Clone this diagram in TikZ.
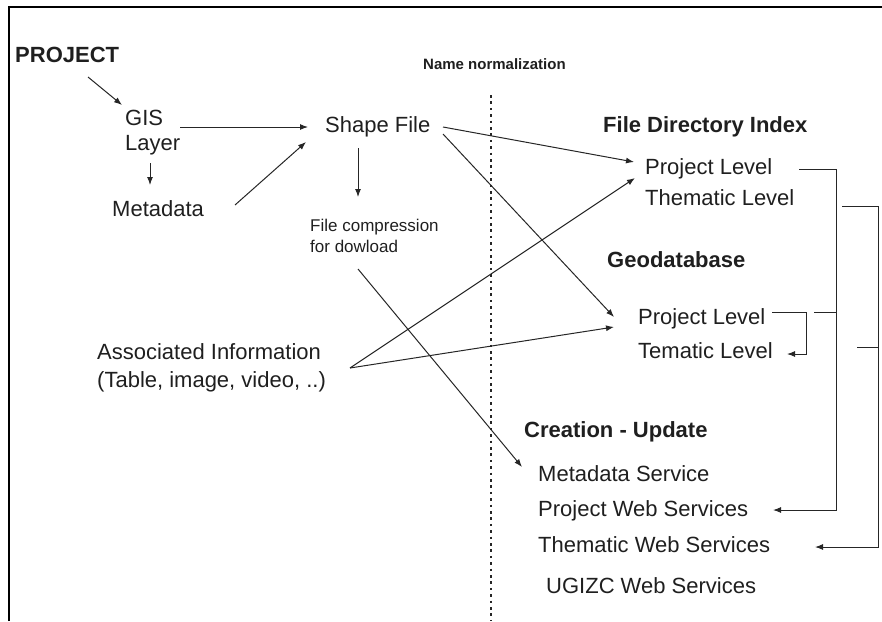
\documentclass[tikz,border=0pt]{standalone}
\usepackage{fontspec}
\setmainfont{Liberation Sans}
\usetikzlibrary{arrows.meta}
\begin{document}
\begin{tikzpicture}[x=1pt,y=-1pt,
  lbl/.style={inner sep=0pt,anchor=base west,font=\fontsize{22}{25}\selectfont,text=black!88},
  hdr/.style={lbl,font=\bfseries\fontsize{22}{25}\selectfont},
  arr/.style={-{Latex[length=8pt,width=6pt]},line width=1pt,draw=black!85},
  ln/.style={line width=1pt,draw=black!85}]
\useasboundingbox (0,0) rectangle (882,621);
% frame
\coordinate (fbl) at (9,621);
\coordinate (ftl) at (9,7);
\coordinate (ftr) at (882,7);
\draw[line width=2pt] (fbl) -- (ftl) -- (ftr);
% texts (multi-line nodes are placed by the baseline of their last line)
\node[hdr] (proj) at (15,62) {PROJECT};
\node[lbl,align=left] (gis) at (125,150) {GIS\\Layer};
\node[lbl] (meta) at (112,216) {Metadata};
\node[lbl] (shape) at (325,132) {Shape File};
\node[lbl,align=left,font=\fontsize{17}{21}\selectfont] (comp) at (310,252) {File compression\\for dowload};
\node[lbl,font=\bfseries\fontsize{15}{18}\selectfont] (norm) at (423,69) {Name normalization};
\node[hdr] (fdi) at (603,132) {File Directory Index};
\node[lbl] (fdiP) at (645,174) {Project Level};
\node[lbl] (fdiT) at (645,205) {Thematic Level};
\node[hdr] (geo) at (607,267) {Geodatabase};
\node[lbl] (geoP) at (638,324) {Project Level};
\node[lbl] (geoT) at (638,358) {Tematic Level};
\node[lbl,align=left,font=\fontsize{22}{28}\selectfont] (assoc) at (97,387) {Associated Information\\(Table, image, video, ..)};
\node[hdr] (cre) at (524,437) {Creation - Update};
\node[lbl] (metaS) at (538,481) {Metadata Service};
\node[lbl] (pws) at (538,516) {Project Web Services};
\node[lbl] (tws) at (538,552) {Thematic Web Services};
\node[lbl] (ugizc) at (546,593) {UGIZC Web Services};
% dotted separator
\coordinate (dtop) at (491,95);
\coordinate (dbot) at (491,621);
\draw[line width=2.6pt,dash pattern=on 2.6pt off 3.8pt,black!85] (dtop) -- (dbot);
% left-side arrows
\draw[arr] ([shift={(73,15)}]proj.base west) -- ([shift={(-3,-45)}]gis.base west);
\draw[arr] ([shift={(55,-23)}]gis.base west) -- ([shift={(-17,-5)}]shape.base west);
\draw[arr] ([shift={(25,13)}]gis.base west) -- ([shift={(38,-31)}]meta.base west);
\draw[arr] ([shift={(123,-11)}]meta.base west) -- ([shift={(-19,10)}]shape.base west);
\draw[arr] ([shift={(33,16)}]shape.base west) -- ([shift={(48,-55)}]comp.base west);
% crossing arrows
\draw[arr] ([shift={(118,-5)}]shape.base west) -- ([shift={(-11,-12)}]fdiP.base west);
\draw[arr] ([shift={(118,2)}]shape.base west) -- ([shift={(-24,-7)}]geoP.base west);
\draw[arr] ([shift={(253,-19)}]assoc.base west) -- ([shift={(-10,4)}]fdiP.base west);
\draw[arr] ([shift={(253,-19)}]assoc.base west) -- ([shift={(-24,3)}]geoP.base west);
\draw[arr] ([shift={(48,17)}]comp.base west) -- ([shift={(-16,-14)}]metaS.base west);
% right-side brackets
\draw[arr] ([shift={(134,-12)}]geoP.base west) -- ++(34,0) |- ([shift={(149,-4)}]geoT.base west);
\draw[arr] ([shift={(154,-5)}]fdiP.base west) -- ++(37,0) |- ([shift={(235,-6)}]pws.base west);
\draw[ln] ([shift={(176,-12)}]geoP.base west) -- ++(22,0);
\draw[arr] ([shift={(197,1)}]fdiT.base west) -- ++(36,0) |- ([shift={(277,-5)}]tws.base west);
\draw[ln] ([shift={(219,-11)}]geoT.base west) -- ++(21,0);
\end{tikzpicture}
\end{document}
